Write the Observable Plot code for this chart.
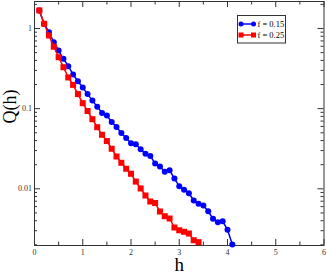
<!DOCTYPE html>
<html><head><meta charset="utf-8">
<script src="https://cdn.jsdelivr.net/npm/d3@7"></script>
<script src="https://cdn.jsdelivr.net/npm/@observablehq/plot@0.6"></script>
<style>body{margin:0;background:#fff} svg{display:block}</style>
</head><body><div id="chart"></div>
<script>
const seriesNames = ["f = 0.15", "f = 0.25"];
const seriesColors = ["#0000ff", "#ff0000"];
const hBlue = [0.1,0.2,0.3,0.4,0.5,0.6,0.7,0.8,0.9,1.0,1.1,1.2,1.3,1.4,1.5,1.6,1.7,1.8,1.9,2.0,2.1,2.2,2.3,2.4,2.5,2.6,2.7,2.8,2.9,3.0,3.1,3.2,3.3,3.4,3.5,3.6,3.7,3.8,3.9,4.0,4.1];
const qBlue = [1.68,1.145,0.899,0.675,0.531,0.419,0.339,0.267,0.220,0.184,0.152,0.126,0.106,0.0882,0.0821,0.0681,0.0590,0.0497,0.0430,0.0371,0.0360,0.0312,0.0273,0.0257,0.0207,0.0190,0.0163,0.0171,0.0134,0.0108,0.00972,0.00881,0.00715,0.00650,0.00619,0.00525,0.00422,0.00383,0.00394,0.00308,0.00202];
const hRed = [0.1,0.2,0.3,0.4,0.5,0.6,0.7,0.8,0.9,1.0,1.1,1.2,1.3,1.4,1.5,1.6,1.7,1.8,1.9,2.0,2.1,2.2,2.3,2.4,2.5,2.6,2.7,2.8,2.9,3.0,3.1,3.2,3.3,3.4];
const qRed = [1.68,1.145,0.818,0.593,0.438,0.329,0.245,0.198,0.152,0.117,0.0935,0.0739,0.0587,0.0472,0.0395,0.0316,0.0253,0.0211,0.0178,0.0154,0.0123,0.0101,0.00825,0.00694,0.00665,0.00521,0.00455,0.00426,0.00329,0.00304,0.00291,0.00277,0.00228,0.00216];
const xTicks = [0,1,2,3,4,5,6];
const xTickLabels = ["0","1","2","3","4","5","6"];
const xMinorTicks = [0.5,1.5,2.5,3.5,4.5,5.5];
const yTicks = [1,0.1,0.01];
const yTickLabels = ["1","0.1","0.01"];
const yMinorTicks = [0.002,0.003,0.004,0.005,0.006,0.007,0.008,0.009,0.02,0.03,0.04,0.05,0.06,0.07,0.08,0.09,0.2,0.3,0.4,0.5,0.6,0.7,0.8,0.9,2];
const xLabel = "h";
const yLabel = "Q(h)";

const W = 327, H = 273, mL = 34, mR = 3.5, mT = 1, mB = 28;
const fw = W - mL - mR, fh = H - mT - mB;
const serif = "Liberation Serif";
const axisColor = "#333";

const blue = hBlue.map((x, i) => ({h: x, q: qBlue[i]}));
const red = hRed.map((x, i) => ({h: x, q: qRed[i]}));
const yTickData = yTicks.map((v, i) => ({v, label: yTickLabels[i]}));
const xTickData = xTicks.map((v, i) => ({v, label: xTickLabels[i]}));

// legend geometry in pixels, relative to the frame's top-left corner
const legX = 237.5 - mL, legY = 15.5 - mT, legW = 48, legH = 27.5;
const legend = seriesNames.map((name, i) => ({name, i, row: legY + 8.5 + i * 11}));
const legendTextMarks = legend.map(d =>
  Plot.text([d], {text: "name", frameAnchor: "top-left", dx: legX + 19.5, dy: d.row,
    lineAnchor: "middle", textAnchor: "start", fontSize: 8.5, fill: "#000"}));

const chart = Plot.plot({
  width: W, height: H,
  marginLeft: mL, marginRight: mR, marginTop: mT, marginBottom: mB,
  style: {fontFamily: serif, background: "#fff"},
  x: {domain: [0, 6], axis: null},
  y: {type: "log", domain: [0.001962, 2.172], axis: null},
  marks: [
    Plot.frame({stroke: axisColor, strokeWidth: 1}),
    Plot.ruleX(xTicks, {x: d => d, insetTop: fh - 6, stroke: axisColor}),
    Plot.ruleX(xMinorTicks, {x: d => d, insetTop: fh - 3.5, stroke: axisColor}),
    Plot.ruleX(xTicks, {x: d => d, insetBottom: fh - 6, stroke: axisColor}),
    Plot.ruleX(xMinorTicks, {x: d => d, insetBottom: fh - 3.5, stroke: axisColor}),
    Plot.ruleY(yTicks, {y: d => d, insetRight: fw - 6, stroke: axisColor}),
    Plot.ruleY(yMinorTicks, {y: d => d, insetRight: fw - 3, stroke: axisColor}),
    Plot.ruleY(yTicks, {y: d => d, insetLeft: fw - 6, stroke: axisColor}),
    Plot.ruleY(yMinorTicks, {y: d => d, insetLeft: fw - 3, stroke: axisColor}),
    Plot.text(xTickData, {x: "v", text: "label", frameAnchor: "bottom", dy: 4, lineAnchor: "top", fontSize: 8, fill: axisColor}),
    Plot.text(yTickData, {y: "v", text: "label", frameAnchor: "left", dx: -2.5, textAnchor: "end", lineAnchor: "middle", fontSize: 8, fill: axisColor}),
    Plot.text([xLabel], {text: d => d, frameAnchor: "bottom", dy: 25, lineAnchor: "bottom", fontSize: 19, fill: "#000"}),
    Plot.text([yLabel], {text: d => d, frameAnchor: "left", dx: -19, rotate: -90, lineAnchor: "bottom", fontSize: 18, fill: "#000"}),
    Plot.line(blue, {x: "h", y: "q", stroke: seriesColors[0], strokeWidth: 1.5}),
    Plot.dot(blue, {x: "h", y: "q", r: 3, fill: seriesColors[0], stroke: "none"}),
    Plot.line(red, {x: "h", y: "q", stroke: seriesColors[1], strokeWidth: 1.5}),
    Plot.dot(red, {x: "h", y: "q", symbol: "square", r: 3.4, fill: seriesColors[1], stroke: "none"}),
    ...legendTextMarks
  ]
});
document.getElementById("chart").appendChild(chart);

// legend box, lines and symbols, inserted just below the legend text
const svg = d3.select(chart);
const texts = svg.selectAll("g[aria-label='text']").nodes();
const firstLegendText = texts[texts.length - legend.length];
const lg = svg.insert("g", () => firstLegendText).attr("transform", `translate(${mL},${mT})`);
lg.append("rect").attr("x", legX).attr("y", legY).attr("width", legW).attr("height", legH)
  .attr("fill", "#fff").attr("stroke", axisColor).attr("stroke-width", 1);
legend.forEach(d => {
  const x0 = legX + 3.5, x1 = legX + 16;
  lg.append("line").attr("x1", x0).attr("x2", x1).attr("y1", d.row).attr("y2", d.row)
    .attr("stroke", seriesColors[d.i]).attr("stroke-width", 1.5);
  [x0, x1].forEach(cx => {
    if (d.i === 0) lg.append("circle").attr("cx", cx).attr("cy", d.row).attr("r", 2.5).attr("fill", seriesColors[d.i]);
    else lg.append("rect").attr("x", cx - 2.5).attr("y", d.row - 2.5).attr("width", 5).attr("height", 5).attr("fill", seriesColors[d.i]);
  });
});
</script>
</body></html>
